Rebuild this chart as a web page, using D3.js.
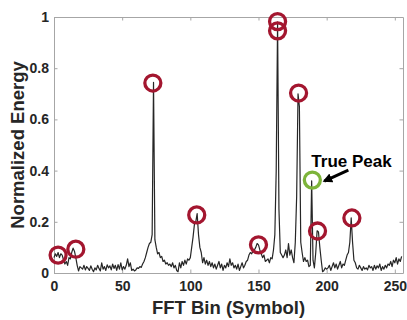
<!DOCTYPE html>
<html>
<head>
<meta charset="utf-8">
<script src="https://cdn.jsdelivr.net/npm/d3@7"></script>
<style>
  body { margin: 0; background: #fff; }
  svg { display: block; font-family: "Liberation Sans", Arial, sans-serif; }
</style>
</head>
<body>
<div id="chart"></div>
<script>
// normalized FFT energy per bin (0..255)
const energy = [
  0.060, 0.075, 0.065, 0.080, 0.060, 0.075, 0.070, 0.050, 0.035, 0.045,
  0.030, 0.060, 0.055, 0.080, 0.097, 0.085, 0.060, 0.030, 0.008, 0.025,
  0.020, 0.015, 0.030, 0.012, 0.025, 0.018, 0.010, 0.028, 0.015, 0.005,
  0.020, 0.012, 0.030, 0.018, 0.008, 0.040, 0.015, 0.025, 0.010, 0.032,
  0.020, 0.028, 0.012, 0.035, 0.018, 0.030, 0.010, 0.033, 0.015, 0.040,
  0.012, 0.025, 0.015, 0.030, 0.055, 0.025, 0.040, 0.010, 0.015, 0.008,
  0.012, 0.020, 0.018, 0.025, 0.022, 0.035, 0.045, 0.060, 0.080, 0.100,
  0.115, 0.120, 0.150, 0.745, 0.130, 0.100, 0.075, 0.080, 0.060, 0.065,
  0.045, 0.050, 0.035, 0.040, 0.030, 0.035, 0.025, 0.040, 0.020, 0.030,
  0.010, 0.005, 0.040, 0.020, 0.045, 0.030, 0.050, 0.035, 0.055, 0.050,
  0.060, 0.100, 0.140, 0.190, 0.200, 0.232, 0.150, 0.100, 0.080, 0.040,
  0.060, 0.035, 0.050, 0.030, 0.045, 0.025, 0.040, 0.020, 0.035, 0.015,
  0.030, 0.045, 0.020, 0.035, 0.010, 0.030, 0.020, 0.040, 0.025, 0.055,
  0.030, 0.040, 0.020, 0.030, 0.015, 0.035, 0.010, 0.025, 0.040, 0.020,
  0.030, 0.045, 0.050, 0.070, 0.080, 0.075, 0.085, 0.090, 0.100, 0.115,
  0.110, 0.090, 0.075, 0.060, 0.070, 0.045, 0.050, 0.055, 0.040, 0.060,
  0.055, 0.090, 0.150, 0.400, 0.980, 0.250, 0.080, 0.070, 0.060, 0.070,
  0.090, 0.060, 0.115, 0.070, 0.090, 0.060, 0.040, 0.120, 0.300, 0.700,
  0.650, 0.120, 0.080, 0.045, 0.060, 0.045, 0.050, 0.025, 0.030, 0.360,
  0.050, 0.020, 0.080, 0.165, 0.160, 0.100, 0.050, 0.005, 0.010, 0.020,
  0.015, 0.020, 0.030, 0.010, 0.025, 0.040, 0.020, 0.035, 0.015, 0.030,
  0.045, 0.020, 0.035, 0.030, 0.050, 0.070, 0.080, 0.120, 0.215, 0.120,
  0.050, 0.040, 0.020, 0.015, 0.030, 0.020, 0.010, 0.025, 0.015, 0.020,
  0.012, 0.030, 0.020, 0.025, 0.010, 0.030, 0.015, 0.028, 0.020, 0.035,
  0.010, 0.025, 0.015, 0.030, 0.020, 0.035, 0.030, 0.045, 0.025, 0.050,
  0.040, 0.060, 0.035, 0.055, 0.045, 0.065
];

// detected peaks (bin, value)
const falsePeaks = [
  [3, 0.07], [16, 0.093], [72.5, 0.742], [104.7, 0.227], [150, 0.11],
  [164, 0.982], [164, 0.946], [179.4, 0.703], [193.3, 0.164], [218.5, 0.215]
];
const truePeak = [189.5, 0.363];

const xTicks = [0, 50, 100, 150, 200, 250];
const yTicks = [0, 0.2, 0.4, 0.6, 0.8, 1];

const width = 407, height = 320;
const margin = { top: 17, right: 4, bottom: 47, left: 54 };
const axisColor = '#a6a6a6';
const textColor = '#262626';

const svg = d3.select('#chart').append('svg')
  .attr('width', width)
  .attr('height', height);

const x = d3.scaleLinear().domain([0, 256]).range([margin.left, width - margin.right]);
const y = d3.scaleLinear().domain([0, 1]).range([height - margin.bottom, margin.top]);

// axes box with inward ticks on all sides
const fmt = (d) => d === 0 || d === 1 ? String(d) : d3.format('.1f')(d);
const styleAxis = (g) => {
  g.select('.domain').attr('stroke', axisColor).attr('stroke-width', 1);
  g.selectAll('.tick line').attr('stroke', axisColor);
  g.selectAll('.tick text')
    .attr('fill', textColor)
    .attr('font-size', 14)
    .attr('font-weight', 'bold');
};

svg.append('g')
  .attr('transform', `translate(0, ${y(0)})`)
  .call(d3.axisBottom(x).tickValues(xTicks).tickSize(-3.5).tickPadding(8).tickSizeOuter(0))
  .call(styleAxis);
svg.append('g')
  .attr('transform', `translate(0, ${y(1)})`)
  .call(d3.axisTop(x).tickValues(xTicks).tickSize(-3.5).tickFormat('').tickSizeOuter(0))
  .call(styleAxis);
svg.append('g')
  .attr('transform', `translate(${x(0)}, 0)`)
  .call(d3.axisLeft(y).tickValues(yTicks).tickFormat(fmt).tickSize(-3.5).tickPadding(5).tickSizeOuter(0))
  .call(styleAxis);
svg.append('g')
  .attr('transform', `translate(${x(256)}, 0)`)
  .call(d3.axisRight(y).tickValues(yTicks).tickSize(-3.5).tickFormat('').tickSizeOuter(0))
  .call(styleAxis);

// spectrum line
const line = d3.line()
  .x((d, i) => x(i))
  .y((d) => y(d));
svg.append('path')
  .datum(energy)
  .attr('fill', 'none')
  .attr('stroke', '#262626')
  .attr('stroke-width', 1.2)
  .attr('stroke-linejoin', 'round')
  .attr('d', line);

// peak markers
svg.selectAll('.peak')
  .data(falsePeaks)
  .enter().append('circle')
  .attr('class', 'peak')
  .attr('cx', (d) => x(d[0]))
  .attr('cy', (d) => y(d[1]))
  .attr('r', 8)
  .attr('fill', 'none')
  .attr('stroke', '#a3162f')
  .attr('stroke-width', 3.3);

svg.append('circle')
  .attr('cx', x(truePeak[0]))
  .attr('cy', y(truePeak[1]))
  .attr('r', 8)
  .attr('fill', 'none')
  .attr('stroke', '#7db43a')
  .attr('stroke-width', 3.3);

// annotation
const tx = x(truePeak[0]);
const ty = y(truePeak[1]);
svg.append('defs').append('marker')
  .attr('id', 'head')
  .attr('viewBox', '0 0 10 10')
  .attr('refX', 8).attr('refY', 5)
  .attr('markerWidth', 3.2).attr('markerHeight', 3.2)
  .attr('orient', 'auto')
  .append('path')
  .attr('d', 'M0,0 L10,5 L0,10 z')
  .attr('fill', '#000');
svg.append('line')
  .attr('x1', tx + 36).attr('y1', ty - 10)
  .attr('x2', tx + 12).attr('y2', ty + 1)
  .attr('stroke', '#000')
  .attr('stroke-width', 3)
  .attr('marker-end', 'url(#head)');
svg.append('text')
  .attr('x', tx - 1)
  .attr('y', ty - 13)
  .attr('font-size', 17)
  .attr('font-weight', 'bold')
  .attr('fill', '#000')
  .text('True Peak');

// axis labels
svg.append('text')
  .attr('x', (x(0) + x(256)) / 2)
  .attr('y', 314)
  .attr('text-anchor', 'middle')
  .attr('font-size', 18.5)
  .attr('font-weight', 'bold')
  .attr('fill', textColor)
  .text('FFT Bin (Symbol)');
svg.append('text')
  .attr('transform', `translate(24, ${(y(0) + y(1)) / 2}) rotate(-90)`)
  .attr('text-anchor', 'middle')
  .attr('font-size', 18.5)
  .attr('font-weight', 'bold')
  .attr('fill', textColor)
  .text('Normalized Energy');
</script>
</body>
</html>
